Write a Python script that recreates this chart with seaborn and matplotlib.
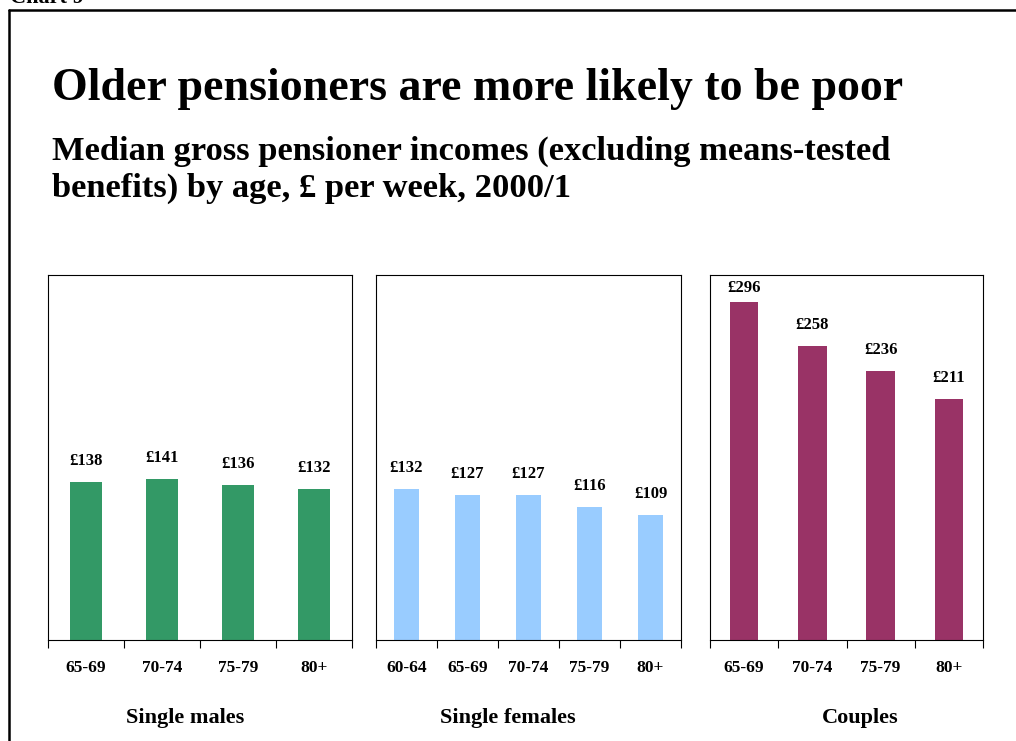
import matplotlib
matplotlib.use("Agg")
import matplotlib.pyplot as plt
from matplotlib.lines import Line2D
import seaborn as sns
import pandas as pd

sns.set_theme(style="white")
plt.rcParams["font.family"] = ["Liberation Serif", "DejaVu Serif"]
plt.rcParams["font.weight"] = "bold"
plt.rcParams["text.color"] = "black"
plt.rcParams["xtick.color"] = "black"
plt.rcParams["xtick.labelcolor"] = "black"

# Median gross pensioner incomes, £ per week, 2000/1
male_ages = ["65-69", "70-74", "75-79", "80+"]
male_income = [138, 141, 136, 132]

female_ages = ["60-64", "65-69", "70-74", "75-79", "80+"]
female_income = [132, 127, 127, 116, 109]

couple_ages = ["65-69", "70-74", "75-79", "80+"]
couple_income = [296, 258, 236, 211]

groups = ["Single males", "Single females", "Couples"]
colors = ["#339966", "#99CCFF", "#993366"]

W, H = 1016, 741
fig = plt.figure(figsize=(W / 100, H / 100), dpi=100)
fig.patch.set_facecolor("white")


def px_box(left, right, top, bottom):
    return [left / W, 1 - bottom / H, (right - left) / W, (bottom - top) / H]


panels = [
    (male_ages, male_income, px_box(48, 352, 275, 639.5), 185),
    (female_ages, female_income, px_box(376, 681, 275, 639.5), 508),
    (couple_ages, couple_income, px_box(710, 983, 275, 639.5), 860),
]

YMAX = 320
for (ages, vals, box, label_x), group, color in zip(panels, groups, colors):
    ax = fig.add_axes(box)
    df = pd.DataFrame({"age": ages, "income": vals})
    sns.barplot(data=df, x="age", y="income", color=color, saturation=1,
                width=0.42, ax=ax, edgecolor="none")
    n = len(ages)
    ax.set_xlim(-0.5, n - 0.5)
    ax.set_ylim(0, YMAX)
    ax.set_xlabel("")
    ax.set_ylabel("")
    ax.set_yticks([])
    ax.set_xticks(range(n))
    ax.set_xticklabels(ages, fontsize=12.5, fontweight="bold", color="black")
    ax.set_xticks([i - 0.5 for i in range(n + 1)], minor=True)
    ax.tick_params(axis="x", which="major", length=0, pad=15)
    ax.tick_params(axis="x", which="minor", length=6, width=0.8,
                   direction="out", color="black", bottom=True)
    for s in ax.spines.values():
        s.set_visible(True)
        s.set_color("black")
        s.set_linewidth(0.8)
    for i, v in enumerate(vals):
        y = min(v + 18.5, 308.5)
        ax.text(i, y, f"£{v}", ha="center", va="center", fontsize=12,
                fontweight="bold", color="black")
    fig.text(label_x / W, 1 - 718 / H, group, ha="center", va="center",
             fontsize=16, fontweight="bold", color="black")

fig.text(52 / W, 1 - 100 / H, "Older pensioners are more likely to be poor",
         ha="left", va="baseline", fontsize=33, fontweight="bold",
         color="black")
fig.text(52 / W, 1 - 160 / H,
         "Median gross pensioner incomes (excluding means-tested",
         ha="left", va="baseline", fontsize=24.8, fontweight="bold",
         color="black")
fig.text(52 / W, 1 - 197 / H, "benefits) by age, £ per week, 2000/1",
         ha="left", va="baseline", fontsize=24.8, fontweight="bold",
         color="black")

fig.text(10 / W, 1 - 3 / H, "Chart 9", ha="left", va="baseline",
         fontsize=16, fontweight="bold", color="black")

# outer frame
fig.add_artist(Line2D([9 / W, 9 / W], [0, 1 - 10 / H], color="black",
                      lw=1.8, transform=fig.transFigure))
fig.add_artist(Line2D([9 / W, 1], [1 - 10 / H, 1 - 10 / H], color="black",
                      lw=1.8, transform=fig.transFigure))

fig.savefig("out.png", dpi=100, facecolor="white")
